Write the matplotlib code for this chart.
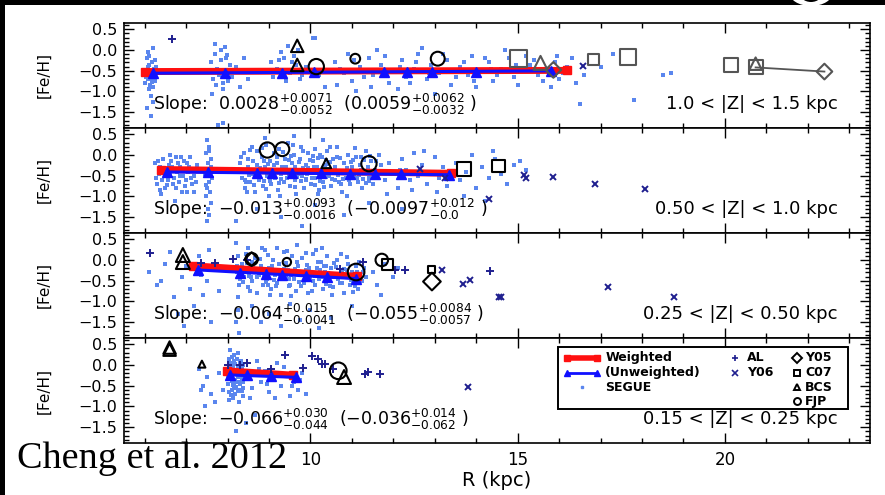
import numpy as np
import matplotlib.pyplot as plt
from matplotlib.patches import Rectangle, Ellipse
from matplotlib.ticker import MultipleLocator, FuncFormatter
from matplotlib.transforms import IdentityTransform

plt.rcParams['font.family'] = ['DejaVu Sans']
plt.rcParams['mathtext.fontset'] = 'dejavusans'

# slices in |Z|
z_labels = ['1.0 < |Z| < 1.5 kpc', '0.50 < |Z| < 1.0 kpc',
            '0.25 < |Z| < 0.50 kpc', '0.15 < |Z| < 0.25 kpc']

# gradients: weighted, then unweighted (with errors)
slope_w = ['0.0028', '-0.013', '-0.064', '-0.066']
slope_w_hi = ['+0.0071', '+0.0093', '+0.015', '+0.030']
slope_w_lo = ['-0.0052', '-0.0016', '-0.0041', '-0.044']
slope_u = ['0.0059', '-0.0097', '-0.055', '-0.036']
slope_u_hi = ['+0.0062', '+0.012', '+0.0084', '+0.014']
slope_u_lo = ['-0.0032', '-0.0', '-0.0057', '-0.062']

# weighted fit: R range and [Fe/H] at the inner end
fit_w_range = [(6.0, 16.2), (6.4, 13.4), (7.16, 11.13), (7.98, 9.57)]
fit_w_start = [-0.52, -0.35, -0.14, -0.14]
# unweighted fit starts at the first bin
fit_u_start = [-0.56, -0.41, -0.24, -0.24]

# unweighted bin medians
bins_r = [
    [6.2, 7.93, 9.32, 10.09, 11.77, 12.33, 12.93, 13.99, 15.81],
    [6.53, 7.52, 8.70, 9.06, 9.56, 10.26, 10.96, 11.56, 12.18, 13.34],
    [7.28, 8.29, 8.93, 9.32, 9.9, 10.4, 11.1],
    [8.05, 8.47, 9.05, 9.65],
]
bins_feh = [
    [-0.56, -0.55, -0.55, -0.54, -0.54, -0.53, -0.53, -0.52, -0.51],
    [-0.41, -0.42, -0.43, -0.43, -0.44, -0.44, -0.45, -0.46, -0.46, -0.48],
    [-0.24, -0.31, -0.33, -0.36, -0.38, -0.41, -0.47],
    [-0.24, -0.23, -0.26, -0.30],
]

# SEGUE stars (R, [Fe/H])
segue_1 = [
    (6.05, -0.2), (6.1, -0.35), (6.15, -0.5), (6.2, -0.6), (6.08, -0.7), (6.22, -0.45),
    (6.12, -0.85), (6.18, -0.3), (6.03, -0.55), (6.25, -0.75), (6.1, -0.95), (6.16, -1.1),
    (6.07, -0.05), (6.2, 0.05), (6.13, -0.62), (6.27, -0.4), (6.0, -0.8), (6.19, -1.25),
    (6.11, -0.15), (6.24, -0.58), (6.05, -1.4), (6.15, -0.68), (6.09, -0.42), (6.21, -0.9),
    (6.14, -1.6), (6.26, -0.25), (6.02, -0.65), (6.17, -0.78),
    (7.6, -0.3), (7.7, -0.1), (7.85, 0.0), (7.95, -0.2), (7.75, -0.45), (8.0, -0.55),
    (7.65, -0.7), (7.9, -0.8), (7.8, -0.6), (8.05, -0.35), (7.7, 0.15), (7.88, -0.95),
    (7.62, -1.05), (7.98, -0.12), (8.1, -0.65), (7.72, -0.85), (7.83, -0.25), (7.93, 0.08),
    (7.58, -0.5), (8.02, -0.75), (7.78, -1.8), (7.9, -1.75), (8.2, -0.4), (8.3, -0.9),
    (8.4, -0.2), (8.5, -0.7),
    (9.05, -0.3), (9.2, -0.45), (9.35, -0.2), (9.5, -0.55), (9.65, -0.35), (9.8, -0.6),
    (9.1, -0.65), (9.3, -0.05), (9.45, 0.1), (9.6, -0.15), (9.75, -0.7), (9.9, -0.4),
    (9.15, -0.5), (9.4, -0.75), (9.55, -0.3), (9.7, 0.0), (9.25, -0.25), (9.85, -0.5),
    (10.05, 0.3), (10.1, 0.28), (10.2, -0.6), (10.35, -0.9),
    (10.6, -0.3), (10.8, -0.55), (11.0, -0.75), (11.2, -0.4), (11.4, -0.2), (11.5, -0.6),
    (11.7, -0.35), (11.9, -0.8), (12.0, -0.5), (12.2, -0.25), (12.3, -0.65), (12.5, -0.45),
    (12.6, -0.1), (12.8, -0.7), (12.9, -0.35), (13.1, -0.55), (13.3, -0.25), (13.4, -0.85),
    (13.6, -0.4), (13.8, -0.6), (13.9, -0.15), (14.1, -0.5), (14.3, -0.3), (14.4, -0.75),
    (14.6, -0.45), (14.8, -0.2), (14.9, -0.65), (15.1, -0.5), (15.3, -0.35), (15.5, -0.6),
    (15.7, -0.45), (15.9, -0.3), (16.1, -0.55), (16.3, -0.2), (16.4, -0.8), (16.6, -0.6),
    (17.0, -0.4), (17.3, -0.1), (17.8, -1.2), (18.5, -0.6), (18.7, -0.55), (11.1, -1.0),
    (12.1, -0.95), (13.0, -1.05), (14.0, -0.9), (15.0, -0.85), (11.6, 0.0), (12.7, 0.05),
    (10.9, -0.1), (14.7, 0.0), (15.8, -0.9), (16.5, -1.3),
    (10.7, -0.45), (11.3, -0.65), (11.8, -0.15), (12.4, -0.8), (13.2, -0.1), (13.5, -0.65),
    (14.2, -0.2), (14.5, -0.6), (15.2, -0.15), (15.6, -0.75), (10.65, -0.85), (11.45, -0.9),
    (12.15, -0.4), (12.85, -0.55), (13.7, -0.3), (14.35, -0.45), (15.4, -0.25), (16.0, -0.7),
    (11.05, -0.25), (12.55, -0.3), (13.95, -0.75), (14.95, -0.35), (15.95, -0.15), (16.2, -0.4),
]
segue_2 = [
    (6.25, -0.2), (6.35, -0.45), (6.45, -0.1), (6.55, -0.6), (6.65, -0.3), (6.75, -0.8),
    (6.85, -0.5), (6.95, -0.15), (7.05, -0.4), (7.15, -0.7), (7.25, -0.25), (6.3, -0.7),
    (6.4, -0.95), (6.5, -0.35), (6.6, 0.0), (6.7, -0.55), (6.8, -0.2), (6.9, -0.9),
    (7.0, -0.6), (7.1, -0.05), (7.2, -0.5), (6.28, -0.55), (6.48, -0.8), (6.58, -0.25),
    (6.78, -0.4), (6.98, -0.75), (7.08, -0.3), (6.38, -0.3), (6.68, -0.7), (6.88, -0.05),
    (7.18, -0.9), (6.72, -1.1), (6.42, -0.6), (6.92, -0.35), (7.12, -0.55), (6.62, -0.45),
    (6.33, -0.15), (6.43, -0.4), (6.53, -0.72), (6.63, -0.15), (6.73, -0.35), (6.83, -0.65),
    (6.93, -0.5), (7.03, -0.2), (7.13, -0.38), (7.23, -0.65), (6.36, -0.85), (6.76, -0.05),
    (7.02, -0.9), (6.56, -0.48), (6.86, -0.3),
    (7.5, 0.35), (7.55, 0.2), (7.48, 0.05), (7.6, -0.1), (7.52, -0.2), (7.58, -0.35),
    (7.46, -0.45), (7.62, -0.55), (7.54, -0.65), (7.5, -0.8), (7.57, -0.9), (7.49, -1.0),
    (7.6, -1.15), (7.53, -1.3), (7.56, -1.45), (7.51, -1.6), (7.59, -0.28), (7.47, -0.72),
    (7.55, 0.1), (7.61, -0.4),
    (8.3, -0.2), (8.35, -0.55), (8.4, 0.05), (8.42, -0.8), (8.45, -0.35), (8.5, -0.1),
    (8.55, -0.65), (8.58, 0.2), (8.6, -0.45), (8.65, -0.9), (8.7, -0.25), (8.72, 0.1),
    (8.75, -0.6), (8.8, -0.4), (8.82, -0.05), (8.85, -0.75), (8.9, -0.3), (8.92, 0.25),
    (8.95, -0.5), (9.0, -1.0), (9.02, -0.15), (9.05, -0.7), (9.1, -0.35), (9.12, 0.05),
    (9.15, -0.55), (9.2, -0.2), (9.22, -0.85), (9.25, 0.15), (9.3, -0.45), (9.35, -0.65),
    (9.38, -0.1), (9.4, -0.3), (9.45, 0.3), (9.5, -0.75), (9.52, -0.5), (9.55, -0.2),
    (9.6, 0.0), (9.62, -0.6), (9.65, -0.95), (9.7, -0.35), (9.75, -0.1), (9.78, 0.2),
    (9.8, -0.5), (9.85, -0.8), (9.88, -0.25), (9.9, -0.6), (9.95, 0.05), (10.0, -0.4),
    (10.02, -0.7), (10.05, -0.15), (10.1, -0.55), (10.12, 0.15), (10.15, -0.3), (10.2, -0.85),
    (10.25, -0.45), (10.28, -0.05), (10.3, -0.65), (10.35, -0.25), (10.4, 0.1), (10.45, -0.5),
    (10.5, -0.75), (10.52, -0.35), (10.55, -0.1), (10.6, -0.6), (10.65, 0.2), (10.7, -0.4),
    (10.75, -0.9), (10.8, -0.2), (10.85, -0.55), (10.9, 0.0), (10.95, -0.7), (11.0, -0.3),
    (11.05, -0.45), (11.1, -0.05), (11.15, -0.65), (11.2, -0.25), (11.25, -0.8), (11.3, -0.4),
    (11.35, 0.1), (11.4, -0.55), (11.45, -0.15), (11.5, -0.7), (11.55, -0.35), (11.6, -0.5),
    (11.65, 0.0), (11.7, -0.25),
    (8.38, -0.42), (8.48, -0.28), (8.62, -0.15), (8.68, -0.52), (8.78, -0.32), (8.88, -0.62),
    (8.98, -0.22), (9.08, -0.48), (9.18, -0.05), (9.28, -0.58), (9.32, -0.28), (9.42, -0.42),
    (9.48, -0.12), (9.58, -0.38), (9.68, -0.52), (9.72, -0.18), (9.82, -0.32), (9.92, -0.45),
    (9.98, -0.12), (10.08, -0.28), (10.18, -0.08), (10.22, -0.62), (10.32, -0.42), (10.38, -0.52),
    (10.48, -0.18), (10.58, -0.28), (10.62, -0.42), (10.72, -0.08), (10.78, -0.58), (10.88, -0.32),
    (10.98, -0.18), (11.08, -0.38), (11.18, -0.48), (11.28, -0.12), (11.38, -0.28), (11.48, -0.42),
    (8.52, -0.48), (8.92, -0.42), (9.38, -0.38), (9.88, -0.58), (10.42, -0.35), (10.92, -0.48),
    (11.42, -0.62), (8.44, -0.65), (9.02, -0.62), (9.62, -0.28), (10.12, -0.72), (10.68, -0.65),
    (11.22, -0.05), (11.58, -0.15),
    (8.33, -0.05), (8.43, -0.6), (8.53, 0.12), (8.63, -0.72), (8.73, -0.38), (8.83, 0.18),
    (8.93, -0.82), (9.03, -0.4), (9.13, -0.25), (9.23, -0.68), (9.33, 0.08), (9.43, -0.55),
    (9.53, -0.02), (9.63, -0.78), (9.73, -0.45), (9.83, 0.1), (9.93, -0.32), (10.03, -0.55),
    (10.13, -0.42), (10.23, 0.0), (10.33, -0.78), (10.43, -0.22), (10.53, -0.58), (10.63, -0.05),
    (10.73, -0.7), (10.83, -0.42), (10.93, -0.6), (11.03, -0.12), (11.13, -0.55), (11.23, -0.35),
    (11.33, -0.68), (11.43, -0.02), (11.53, -0.45), (8.57, -0.35), (8.87, -0.15), (9.17, -0.38),
    (9.47, -0.45), (9.77, -0.62), (10.07, -0.02), (10.37, -0.12), (10.67, -0.48), (10.97, -0.42),
    (11.27, -0.58), (8.47, -0.9), (9.27, -1.0), (10.17, -0.95), (10.87, -1.0), (9.57, 0.25),
    (10.47, 0.2), (11.07, 0.18),
    (11.8, -0.6), (11.9, -0.2), (12.0, -0.45), (12.1, -0.8), (12.2, -0.1), (12.3, -0.35),
    (12.4, -0.6), (12.5, 0.05), (12.6, -0.5), (12.7, -0.25), (12.8, -0.7), (12.9, -0.4),
    (13.0, -0.05), (13.1, -0.55), (13.2, -0.3), (13.3, -0.75), (11.85, -0.95), (12.15, -0.35),
    (12.45, -0.85), (12.75, 0.1), (13.05, -0.9),
    (13.5, -0.2), (13.6, -0.6), (13.75, -0.4), (13.9, 0.0), (14.0, -0.8), (14.15, -0.3),
    (14.3, -0.55), (14.45, -0.1), (14.6, -0.45), (14.75, -0.7), (14.9, -0.25), (15.05, -0.15),
    (15.2, -0.35), (14.2, -1.1), (14.4, 0.1), (13.7, -1.0),
    (8.7, -1.3), (9.3, -1.5), (10.1, -1.2), (10.8, -1.45), (11.4, -1.15), (9.8, -1.7),
    (12.2, -1.3), (8.2, -1.6), (8.9, 0.4), (10.3, 0.35), (9.6, 0.45),
]
segue_3 = [
    (6.1, -0.3), (6.3, -0.6), (6.5, -0.1), (6.7, -0.9), (6.9, -0.4), (7.1, -0.7),
    (7.3, 0.1), (7.5, -0.5), (7.7, -0.2), (6.8, -1.3), (7.2, -1.1), (7.4, -0.85),
    (6.6, 0.2), (7.0, -0.15), (7.6, -1.5), (6.95, -1.6), (7.35, -0.35), (6.4, -0.5),
    (7.55, 0.25), (7.8, -0.75),
    (8.2, 0.4), (8.25, 0.1), (8.22, -0.3), (8.28, -0.6), (8.24, -0.9), (8.26, -1.2),
    (8.21, -1.5), (8.27, -1.75), (8.23, -0.15), (8.29, -0.45),
    (8.35, -0.1), (8.4, -0.4), (8.45, 0.15), (8.5, -0.65), (8.55, -0.25), (8.6, -0.5),
    (8.65, 0.05), (8.7, -0.8), (8.75, -0.35), (8.8, -0.15), (8.85, -0.6), (8.9, 0.25),
    (8.95, -0.45), (9.0, -0.2), (9.05, -0.7), (9.1, 0.0), (9.15, -0.35), (9.2, -0.55),
    (9.25, -0.1), (9.3, -0.85), (9.35, 0.2), (9.4, -0.4), (9.45, -0.25), (9.5, -0.6),
    (9.55, 0.1), (9.6, -0.45), (9.65, -0.75), (9.7, -0.15), (9.75, -0.35), (9.8, 0.05),
    (9.85, -0.55), (9.9, -0.25), (9.95, -0.8), (10.0, -0.4), (10.05, 0.15), (10.1, -0.6),
    (10.15, -0.2), (10.2, -0.45), (10.25, -0.05), (10.3, -0.7), (10.35, -0.3), (10.4, 0.1),
    (10.45, -0.5), (10.5, -0.2), (10.55, -0.65), (10.6, -0.35), (10.65, 0.0), (10.7, -0.55),
    (10.75, -0.25), (10.8, -0.8), (10.85, -0.4), (10.9, -0.1), (10.95, -0.6), (11.0, -0.3),
    (11.05, -0.45), (11.1, -0.15), (11.15, -0.7), (11.2, -0.35), (11.25, -0.5), (11.3, -0.2),
    (11.35, -0.4),
    (8.42, -0.22), (8.52, -0.38), (8.62, -0.18), (8.72, -0.42), (8.82, -0.28), (8.92, -0.52),
    (9.02, -0.32), (9.12, -0.48), (9.22, -0.28), (9.32, -0.42), (9.42, -0.08), (9.52, -0.35),
    (9.62, -0.22), (9.72, -0.52), (9.82, -0.32), (9.92, -0.12), (10.02, -0.28), (10.12, -0.38),
    (10.22, -0.25), (10.32, -0.15), (10.42, -0.32), (10.52, -0.42), (10.62, -0.18), (10.72, -0.38),
    (10.82, -0.22), (10.92, -0.35), (11.02, -0.52), (11.12, -0.28), (8.58, -0.05), (8.98, 0.12),
    (9.48, -0.62), (9.88, 0.18), (10.38, -0.58), (10.88, 0.08), (8.48, 0.3), (9.18, 0.3),
    (9.68, 0.35), (10.28, 0.28),
    (8.37, -0.52), (8.47, -0.08), (8.57, -0.42), (8.67, -0.28), (8.77, 0.02), (8.87, -0.42),
    (8.97, -0.6), (9.07, -0.15), (9.17, -0.62), (9.27, -0.38), (9.37, -0.22), (9.47, -0.45),
    (9.57, -0.28), (9.67, -0.05), (9.77, -0.62), (9.87, -0.42), (9.97, -0.2), (10.07, -0.5),
    (10.17, -0.05), (10.27, -0.4), (10.37, -0.15), (10.47, -0.62), (10.57, -0.08), (10.67, -0.45),
    (10.77, -0.55), (10.87, -0.25), (10.97, -0.48), (11.07, -0.62), (11.17, -0.05), (11.27, -0.3),
    (8.53, -0.75), (9.03, -0.85), (9.53, -0.88), (10.03, -0.75), (10.53, -0.85), (11.03, -0.78),
    (8.83, 0.3), (9.43, 0.22), (10.13, 0.25), (10.73, 0.15),
    (8.6, -1.1), (9.0, -1.3), (9.5, -1.05), (10.0, -1.2), (10.5, -1.4), (9.3, -1.6),
    (8.8, -1.5), (10.2, -1.65), (11.0, -1.1), (9.75, -1.45),
    (11.5, -0.3), (11.6, -0.6), (11.8, -0.1), (12.0, -0.4), (11.7, -0.85), (12.1, -0.2),
]
segue_4 = [
    (8.0, -0.1), (8.05, -0.3), (8.1, 0.2), (8.15, -0.5), (8.2, -0.2), (8.25, 0.3),
    (8.3, -0.4), (8.35, -0.1), (8.03, -0.65), (8.08, 0.05), (8.12, -0.8), (8.18, -0.35),
    (8.22, 0.15), (8.28, -0.6), (8.32, -0.25), (8.38, 0.0), (8.02, -0.45), (8.07, -0.2),
    (8.13, -0.05), (8.17, -0.7), (8.23, -0.15), (8.27, -0.9), (8.33, 0.1), (8.37, -0.55),
    (8.06, 0.35), (8.16, 0.25), (8.26, -0.3), (8.36, -0.75), (8.11, -0.38), (8.21, -0.52),
    (8.31, -0.08), (8.09, -0.25), (8.19, 0.02), (8.29, -0.45), (8.04, -0.85), (8.14, -0.12),
    (8.24, -0.62), (8.34, -0.32),
    (8.01, -0.32), (8.05, -0.05), (8.1, -0.6), (8.15, 0.1), (8.2, -0.42), (8.25, -0.25),
    (8.3, 0.05), (8.35, -0.62), (8.04, 0.15), (8.14, -0.48), (8.24, -0.05), (8.34, -0.18),
    (8.08, -0.72), (8.18, -0.55), (8.28, -0.12), (8.38, -0.4),
    (7.3, -0.1), (7.4, -0.5), (7.5, -0.3), (7.6, -0.7), (7.7, -0.9), (7.8, -0.2),
    (7.9, -0.6), (8.5, -0.3), (8.6, -0.55), (8.7, 0.1), (8.8, -0.4), (8.9, -0.15),
    (9.0, -0.65), (9.1, -0.3), (9.2, 0.05), (9.3, -0.5), (9.4, -0.25), (9.5, -0.75),
    (9.6, -0.4), (9.7, -0.6), (9.8, -0.2), (8.55, -0.8), (8.75, -0.1), (8.95, -0.45),
    (9.15, -0.8), (9.35, -0.05), (9.55, -0.5), (9.75, -0.35), (7.45, -1.0), (8.45, -1.4),
    (8.2, -1.6), (8.65, -1.2), (7.35, -0.6), (9.9, -0.7),
]

# literature samples per slice
al = [
    [(6.65, 0.26)],
    [],
    [(6.13, 0.17), (7.35, -0.07), (7.7, -0.07), (8.13, 0.02), (8.47, 0.0), (10.72, -0.21),
     (11.27, -0.05), (12.05, -0.24), (12.29, -0.24), (14.32, -0.26)],
    [(8.01, 0.0), (8.3, 0.0), (8.47, 0.05), (9.05, -0.1), (9.39, 0.24), (9.82, -0.07),
     (10.04, 0.21), (10.19, 0.14), (10.28, 0.02), (10.36, 0.02), (10.55, -0.1),
     (11.32, -0.21), (11.39, -0.17), (11.68, -0.21)],
]
y06 = [
    [(16.58, -0.38)],
    [(12.65, -0.33), (13.25, -0.56), (15.14, -0.48), (15.2, -0.55), (15.86, -0.52),
     (16.87, -0.69), (18.07, -0.81), (14.3, -1.05)],
    [(13.18, -0.24), (13.69, -0.57), (13.86, -0.48), (14.56, -0.9), (14.6, -0.9),
     (17.19, -0.64), (18.76, -0.9)],
    [(13.8, -0.52)],
]
y05 = [
    [(15.86, -0.48), (22.4, -0.52)],
    [],
    [(8.58, 0.02), (12.93, -0.52)],
    [],
]
c07 = [
    [(15.02, -0.21), (16.82, -0.22), (17.66, -0.17), (20.14, -0.36), (20.74, -0.42)],
    [(13.7, -0.33), (14.54, -0.26)],
    [(11.85, -0.1), (12.93, -0.24)],
    [],
]
bcs = [
    [(9.68, 0.10), (9.68, -0.36), (15.55, -0.31), (20.74, -0.33)],
    [(10.38, -0.2)],
    [(6.92, 0.12), (6.92, -0.05)],
    [(6.6, 0.42), (6.6, 0.37), (7.38, 0.02), (10.81, -0.29)],
]
fjp = [
    [(10.14, -0.40), (11.08, -0.21), (13.07, -0.21)],
    [(8.96, 0.12), (9.32, 0.14), (11.41, -0.21)],
    [(8.58, 0.02), (9.43, -0.05), (11.1, -0.29), (11.72, 0.0)],
    [(10.67, -0.14)],
]
# Y05 star linked to its C07 counterpart in the top slice
linked_pair = [(20.74, -0.42), (22.4, -0.52)]

# marker sizes (pt)
c07_ms = [[12, 8, 12, 10, 10], [10, 9], [8, 5], []]
fjp_ms = [[11, 7, 10], [11, 10, 11], [9, 6, 12, 9], [12]]
bcs_ms = [[9, 9, 10, 9], [7], [10, 10], [9, 9, 5, 10]]
y05_ms = [[8, 8], [], [7, 9], []]

dot_blue = '#5a86ee'
navy = '#1f1f8f'
gray = '#555555'

W, H = 885, 495
fig = plt.figure(figsize=(W / 100, H / 100), dpi=100, facecolor='black')

# white sheet, with the tail of a white glyph peeking over its top edge
fig.add_artist(Ellipse((811, H + 8), 44, 28, transform=IdentityTransform(),
                       facecolor='white', edgecolor='none', zorder=-3))
fig.add_artist(Ellipse((811, H + 8), 24, 20, transform=IdentityTransform(),
                       facecolor='black', edgecolor='none', zorder=-2))
fig.add_artist(Rectangle((5 / W, 0), 1 - 5 / W, (H - 5) / H, transform=fig.transFigure,
                         facecolor='white', edgecolor='none', zorder=-1))

left, right, top, ph = 124, 870, 23, 105


def fmt(v, pos):
    s = '%.1f' % v
    if s == '-0.0':
        s = '0.0'
    return s.replace('-', '\u2212')


def open_marks(ax, data, marker, sizes, colors, z=4):
    if not data:
        return
    d = np.array(data)
    ax.scatter(d[:, 0], d[:, 1], s=np.array(sizes) ** 2, marker=marker, facecolors='none',
               edgecolors=colors, linewidths=1.5, zorder=z)


axes = []
for i in range(4):
    b = 1 - (top + ph * (i + 1)) / H
    ax = fig.add_axes([left / W, b, (right - left) / W, ph / H])
    axes.append(ax)
    ax.set_xlim(5.5, 23.5)
    ax.set_ylim(-1.88, 0.65)

    s = np.array(segue_1 if i == 0 else segue_2 if i == 1 else segue_3 if i == 2 else segue_4)
    ax.scatter(s[:, 0], s[:, 1], s=6.5, marker='s', color=dot_blue, linewidths=0, zorder=1)

    # weighted fit
    rr = np.array(fit_w_range[i])
    fw = fit_w_start[i] + float(slope_w[i]) * (rr - rr[0])
    ax.plot(rr, fw, color='#ff1010', lw=5, solid_capstyle='butt', zorder=2)
    ax.plot(rr, fw, ls='none', marker='s', ms=6, color='#ff1010', zorder=2)

    # unweighted fit and bins
    br = np.array(bins_r[i])
    ends = np.array([br[0], br[-1]])
    ax.plot(ends, fit_u_start[i] + float(slope_u[i]) * (ends - ends[0]),
            color='#1010ff', lw=2.2, zorder=3)
    ax.plot(br, bins_feh[i], ls='none', marker='^', ms=7, color='#1010ff', zorder=3)

    # literature
    if al[i]:
        d = np.array(al[i])
        ax.plot(d[:, 0], d[:, 1], ls='none', marker='+', ms=6, mew=1.4, color=navy, zorder=4)
    if y06[i]:
        d = np.array(y06[i])
        ax.plot(d[:, 0], d[:, 1], ls='none', marker='x', ms=5, mew=1.4, color=navy, zorder=4)

    def cols(data):
        return [gray if (i == 0 and r > 14.5) else 'black' for r, _ in data]

    if i == 0:
        lp = np.array(linked_pair)
        ax.plot(lp[:, 0], lp[:, 1], color=gray, lw=1.3, zorder=4)
    open_marks(ax, y05[i], 'D', y05_ms[i], cols(y05[i]))
    open_marks(ax, c07[i], 's', c07_ms[i], cols(c07[i]))
    open_marks(ax, bcs[i], '^', bcs_ms[i], cols(bcs[i]))
    open_marks(ax, fjp[i], 'o', fjp_ms[i], cols(fjp[i]))

    # axes in the usual inward-tick style
    ax.yaxis.set_major_locator(MultipleLocator(0.5))
    ax.yaxis.set_minor_locator(MultipleLocator(0.1))
    ax.yaxis.set_major_formatter(FuncFormatter(fmt))
    ax.xaxis.set_major_locator(MultipleLocator(5))
    ax.xaxis.set_minor_locator(MultipleLocator(1))
    ax.tick_params(which='both', direction='in', top=True, right=True, width=1.0)
    ax.tick_params(which='major', length=7, labelsize=11.5, pad=5)
    ax.tick_params(which='minor', length=3.5)
    ax.tick_params(axis='x', labelbottom=(i == 3), pad=6, labelsize=12)
    for sp in ax.spines.values():
        sp.set_linewidth(1.2)

    txt = (r'Slope:  $%s^{%s}_{%s}$  ($%s^{%s}_{%s}$ )'
           % (slope_w[i], slope_w_hi[i], slope_w_lo[i], slope_u[i], slope_u_hi[i], slope_u_lo[i]))
    ax.text(0.039, 0.225, txt, transform=ax.transAxes, fontsize=12.5, ha='left', va='center', zorder=6)
    ax.text(0.957, 0.225, z_labels[i], transform=ax.transAxes, fontsize=13,
            ha='right', va='center', zorder=6)

    fig.text(44 / W, b + ph / H / 2, '[Fe/H]', rotation=90, ha='center', va='center', fontsize=11)

ax = axes[3]
ax.set_xlabel('R (kpc)', fontsize=14)
ax.xaxis.set_label_coords(0.5, -0.27)

# legend box
ax.add_patch(Rectangle((0.582, 0.324), 0.389, 0.59, transform=ax.transAxes,
                       facecolor='white', edgecolor='black', lw=1.4, zorder=7))
rows = [0.81, 0.667, 0.533, 0.40]
ax.plot([0.594, 0.634], [rows[0]] * 2, transform=ax.transAxes, color='#ff1010', lw=4,
        marker='s', ms=4, solid_capstyle='butt', zorder=8)
ax.plot([0.594, 0.634], [rows[1]] * 2, transform=ax.transAxes, color='#1010ff', lw=2,
        marker='^', ms=5, zorder=8)
ax.plot([0.614], [rows[2]], transform=ax.transAxes, ls='none', marker='s', ms=1.5,
        color=dot_blue, zorder=8)
for y, t in zip(rows[:3], ['Weighted', '(Unweighted)', 'SEGUE']):
    ax.text(0.645, y, t, transform=ax.transAxes, fontsize=9, fontweight='bold',
            va='center', zorder=8)
for y, m, t in zip(rows[:2], ['+', 'x'], ['AL', 'Y06']):
    ax.plot([0.819], [y], transform=ax.transAxes, ls='none', marker=m, ms=5, mew=1.2,
            color=navy, zorder=8)
    ax.text(0.835, y, t, transform=ax.transAxes, fontsize=9, fontweight='bold',
            va='center', zorder=8)
for y, m, t in zip(rows, ['D', 's', '^', 'o'], ['Y05', 'C07', 'BCS', 'FJP']):
    ax.plot([0.902], [y], transform=ax.transAxes, ls='none', marker=m, ms=5, mew=1.4,
            mfc='none', mec='black', zorder=8)
    ax.text(0.913, y, t, transform=ax.transAxes, fontsize=9, fontweight='bold',
            va='center', zorder=8)

fig.text(17 / W, 1 - 468 / H, 'Cheng et al. 2012', family='Liberation Serif',
         fontsize=27.5, ha='left', va='baseline', color='black')

fig.savefig('out.png', dpi=100)
